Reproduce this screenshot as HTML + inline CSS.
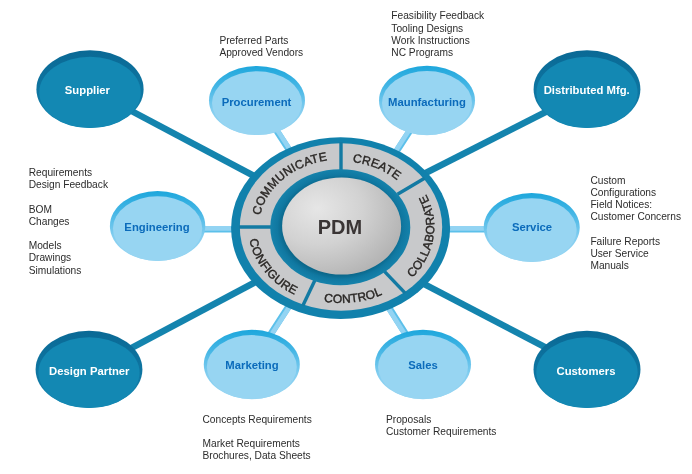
<!DOCTYPE html>
<html><head><meta charset="utf-8">
<style>
html,body{margin:0;padding:0;background:#fff;width:692px;height:474px;overflow:hidden}
svg{display:block;will-change:transform}
text{font-family:"Liberation Sans",sans-serif}
.note{font-size:10.2px;fill:#2c2c2c}
.dk{font-size:11.3px;font-weight:bold;fill:#fff}
.lt{font-size:11.3px;font-weight:bold;fill:#0b6bbb}
.ring{font-size:12px;fill:#2a2725;stroke:#2a2725;stroke-width:0.4px}
</style></head>
<body>
<svg width="692" height="474" viewBox="0 0 692 474">
<defs>
  <radialGradient id="sph" cx="0.3" cy="0.32" r="0.75">
    <stop offset="0" stop-color="#e6e6e6"/>
    <stop offset="0.5" stop-color="#d2d2d2"/>
    <stop offset="1" stop-color="#b4b4b4"/>
  </radialGradient>
  <radialGradient id="inRing" cx="0.5" cy="0.5" r="0.5">
    <stop offset="0.82" stop-color="#0a6689"/>
    <stop offset="0.9" stop-color="#1078a1"/>
    <stop offset="1" stop-color="#1582ab"/>
  </radialGradient>
  <linearGradient id="dkRim" x1="0" y1="0" x2="0" y2="1">
    <stop offset="0" stop-color="#0a6995"/>
    <stop offset="0.6" stop-color="#0f77a3"/>
    <stop offset="1" stop-color="#1388b3"/>
  </linearGradient>
  <linearGradient id="ltRim" x1="0" y1="0" x2="0" y2="1">
    <stop offset="0" stop-color="#1ea7dc"/>
    <stop offset="0.3" stop-color="#45b6e5"/>
    <stop offset="0.65" stop-color="#84cef0"/>
    <stop offset="1" stop-color="#97d5f2"/>
  </linearGradient>
  <path id="pComm" d="M 268.47,258.50 A 82.00,67.50 0 0 1 371.96,164.50"/><path id="pCreate" d="M 289.73,176.59 A 80.11,65.61 0 0 1 419.84,238.63"/><path id="pColl" d="M 361.89,303.79 A 93.29,78.79 0 0 0 383.44,156.84"/><path id="pCtrl" d="M 262.13,264.28 A 90.51,76.01 0 0 0 429.96,241.02"/><path id="pConf" d="M 268.19,178.38 A 92.85,78.35 0 0 0 359.74,303.74"/>
</defs>
<g stroke="#1484ae" stroke-width="6.5" fill="none">
  <line x1="90" y1="89" x2="341" y2="222"/>
  <line x1="587" y1="91" x2="341" y2="216"/>
  <line x1="89" y1="370.7" x2="341" y2="236.4"/>
  <line x1="587" y1="369" x2="341" y2="240.7"/>
</g>
<g stroke="#5cc0ea" stroke-width="6.6" fill="none"><line x1="257" y1="100.5" x2="339" y2="227"/><line x1="429.5" y1="100.5" x2="347.5" y2="227"/><line x1="157" y1="229.3" x2="341" y2="229.3"/><line x1="532" y1="229.3" x2="341" y2="229.3"/><line x1="251" y1="364.5" x2="340" y2="227"/><line x1="425" y1="364.5" x2="338" y2="227"/></g><g stroke="#93d4f3" stroke-width="4.7" fill="none"><line x1="257.80" y1="99.98" x2="339.80" y2="226.48"/><line x1="428.70" y1="99.98" x2="346.70" y2="226.48"/><line x1="157.00" y1="228.35" x2="341.00" y2="228.35"/><line x1="532.00" y1="228.35" x2="341.00" y2="228.35"/><line x1="251.80" y1="365.02" x2="340.80" y2="227.52"/><line x1="424.20" y1="365.01" x2="337.20" y2="227.51"/></g>
<ellipse cx="90" cy="89.2" rx="53.6" ry="38.9" fill="url(#dkRim)"/><ellipse cx="90" cy="92.4" rx="50.800000000000004" ry="35.6" fill="#1388b3"/><ellipse cx="587" cy="89.2" rx="53.4" ry="38.9" fill="url(#dkRim)"/><ellipse cx="587" cy="92.4" rx="50.6" ry="35.6" fill="#1388b3"/><ellipse cx="89" cy="369.4" rx="53.4" ry="38.7" fill="url(#dkRim)"/><ellipse cx="89" cy="372.59999999999997" rx="50.6" ry="35.400000000000006" fill="#1388b3"/><ellipse cx="587" cy="369.4" rx="53.5" ry="38.7" fill="url(#dkRim)"/><ellipse cx="587" cy="372.59999999999997" rx="50.7" ry="35.400000000000006" fill="#1388b3"/>
<ellipse cx="257" cy="100.5" rx="48" ry="34.6" fill="url(#ltRim)"/><ellipse cx="257" cy="103.1" rx="45" ry="31.900000000000002" fill="#97d5f2"/><ellipse cx="427" cy="100.5" rx="48" ry="34.7" fill="url(#ltRim)"/><ellipse cx="427" cy="103.1" rx="45" ry="32.0" fill="#97d5f2"/><ellipse cx="157.6" cy="226" rx="47.7" ry="35" fill="url(#ltRim)"/><ellipse cx="157.6" cy="228.6" rx="44.7" ry="32.3" fill="#97d5f2"/><ellipse cx="531.7" cy="227.5" rx="48" ry="34.5" fill="url(#ltRim)"/><ellipse cx="531.7" cy="230.1" rx="45" ry="31.8" fill="#97d5f2"/><ellipse cx="251.8" cy="364.5" rx="48" ry="34.7" fill="url(#ltRim)"/><ellipse cx="251.8" cy="367.1" rx="45" ry="32.0" fill="#97d5f2"/><ellipse cx="423" cy="364.5" rx="48" ry="34.7" fill="url(#ltRim)"/><ellipse cx="423" cy="367.1" rx="45" ry="32.0" fill="#97d5f2"/>
<ellipse cx="340.6" cy="228.1" rx="109.5" ry="90.8" fill="#1181ac"/>
<ellipse cx="341" cy="227" rx="101.2" ry="83.7" fill="#c8c9cb"/>
<g stroke="#137aa3" stroke-width="3.4"><line x1="341.00" y1="142.00" x2="341.00" y2="170.00"/><line x1="424.55" y1="178.25" x2="397.52" y2="194.31"/><line x1="405.19" y1="293.06" x2="384.42" y2="271.30"/><line x1="302.79" y1="305.81" x2="315.15" y2="279.85"/><line x1="239.00" y1="227.00" x2="272.00" y2="227.00"/></g>
<ellipse cx="340.3" cy="227.2" rx="70" ry="58" fill="url(#inRing)"/>
<ellipse cx="341.6" cy="226" rx="59.5" ry="48.6" fill="url(#sph)"/>
<text x="340" y="234.4" text-anchor="middle" font-size="20" font-weight="bold" fill="#3a3535">PDM</text>
<text class="ring" letter-spacing="0.25"><textPath href="#pComm" startOffset="50%" text-anchor="middle">COMMUNICATE</textPath></text><text class="ring" letter-spacing="0.25"><textPath href="#pCreate" startOffset="50%" text-anchor="middle">CREATE</textPath></text><text class="ring" letter-spacing="0.30"><textPath href="#pColl" startOffset="50%" text-anchor="middle">COLLABORATE</textPath></text><text class="ring" letter-spacing="0.18"><textPath href="#pCtrl" startOffset="50%" text-anchor="middle">CONTROL</textPath></text><text class="ring" letter-spacing="0.22"><textPath href="#pConf" startOffset="50%" text-anchor="middle">CONFIGURE</textPath></text>
<text class="dk" x="87.4" y="93.7" text-anchor="middle">Supplier</text>
<text class="dk" x="586.7" y="94" text-anchor="middle">Distributed Mfg.</text>
<text class="dk" x="89.3" y="375.3" text-anchor="middle">Design Partner</text>
<text class="dk" x="586" y="375" text-anchor="middle">Customers</text>
<text class="lt" x="256.5" y="105.5" text-anchor="middle">Procurement</text>
<text class="lt" x="427" y="105.5" text-anchor="middle">Maunfacturing</text>
<text class="lt" x="157" y="231.4" text-anchor="middle">Engineering</text>
<text class="lt" x="532" y="231.4" text-anchor="middle">Service</text>
<text class="lt" x="252" y="369.4" text-anchor="middle">Marketing</text>
<text class="lt" x="423" y="369.4" text-anchor="middle">Sales</text>
<text class="note" x="219.4" y="44.20">Preferred Parts</text>
<text class="note" x="219.4" y="56.40">Approved Vendors</text>
<text class="note" x="391.3" y="19.30">Feasibility Feedback</text>
<text class="note" x="391.3" y="31.50">Tooling Designs</text>
<text class="note" x="391.3" y="43.70">Work Instructions</text>
<text class="note" x="391.3" y="55.90">NC Programs</text>
<text class="note" x="28.7" y="176.00">Requirements</text>
<text class="note" x="28.7" y="188.20">Design Feedback</text>
<text class="note" x="28.7" y="212.60">BOM</text>
<text class="note" x="28.7" y="224.80">Changes</text>
<text class="note" x="28.7" y="249.20">Models</text>
<text class="note" x="28.7" y="261.40">Drawings</text>
<text class="note" x="28.7" y="273.60">Simulations</text>
<text class="note" x="590.4" y="183.60">Custom</text>
<text class="note" x="590.4" y="195.80">Configurations</text>
<text class="note" x="590.4" y="208.00">Field Notices:</text>
<text class="note" x="590.4" y="220.20">Customer Concerns</text>
<text class="note" x="590.4" y="244.60">Failure Reports</text>
<text class="note" x="590.4" y="256.80">User Service</text>
<text class="note" x="590.4" y="269.00">Manuals</text>
<text class="note" x="202.5" y="422.60">Concepts Requirements</text>
<text class="note" x="202.5" y="447.00">Market Requirements</text>
<text class="note" x="202.5" y="459.20">Brochures, Data Sheets</text>
<text class="note" x="386" y="422.60">Proposals</text>
<text class="note" x="386" y="434.80">Customer Requirements</text>
</svg>
</body></html>
